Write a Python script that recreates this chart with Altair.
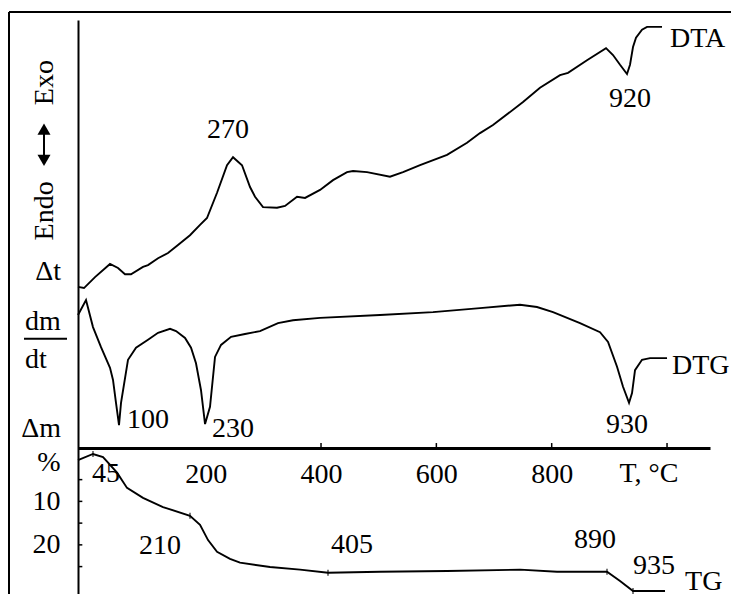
import altair as alt
import pandas as pd

FONT = "Liberation Serif"
FS = 28

# ---------------- data ----------------
# temperature (°C); DTA / DTG in relative signal units (0-100 over the panel); TG mass loss in %
DTA_T = [-21.4, -11.0, 8.1, 34.1, 48.0, 60.1, 70.5, 91.3, 100.0, 117.4, 134.7, 152.0, 172.8, 190.2,
         202.3, 219.7, 237.0, 247.4, 263.0, 276.9, 285.6, 299.4, 323.7, 337.6, 358.4, 372.3, 398.3,
         420.8, 445.1, 455.5, 479.8, 519.6, 542.2, 571.7, 618.5, 653.2, 675.7, 698.2, 750.3, 779.7,
         814.4, 828.3, 861.2, 894.2, 906.3, 918.5, 930.6, 935.8, 941.0, 946.2, 956.6, 965.3, 991.3]
DTA_V = [53.5, 53.3, 55.2, 57.5, 56.8, 55.7, 55.7, 57.0, 57.3, 58.5, 59.4, 60.8, 62.5, 64.3,
         65.5, 69.9, 74.7, 76.1, 74.7, 70.9, 69.2, 67.4, 67.3, 67.6, 69.2, 69.0, 70.4,
         72.1, 73.5, 73.7, 73.5, 72.7, 73.5, 74.7, 76.5, 78.6, 80.3, 81.7, 85.7, 88.2,
         90.4, 90.8, 93.0, 95.1, 93.9, 92.2, 90.6, 92.2, 95.3, 96.9, 98.3, 98.8, 98.8]

DTG_T = [-21.4, -7.5, 4.6, 18.5, 34.1, 39.3, 44.5, 49.7, 53.2, 65.3, 79.2, 100.0, 117.4, 138.2,
         148.6, 164.2, 174.6, 183.2, 191.9, 198.9, 207.5, 216.2, 226.6, 244.0, 268.2, 294.2, 325.4,
         351.4, 398.3, 502.3, 594.2, 675.7, 745.1, 774.5, 802.3, 849.1, 883.8, 897.7, 913.3, 923.7,
         934.1, 939.3, 944.5, 956.6, 970.5, 1000.0]
DTG_V = [48.6, 51.2, 46.5, 43.0, 39.4, 37.3, 33.3, 29.4, 33.3, 40.8, 42.9, 44.3, 45.5, 46.2,
         45.8, 44.6, 42.9, 40.2, 35.5, 29.6, 32.6, 41.3, 43.4, 44.8, 45.3, 45.8, 47.2,
         47.7, 48.1, 48.6, 49.1, 49.8, 50.4, 50.0, 49.1, 47.2, 45.6, 43.9, 39.6, 36.1,
         33.3, 35.0, 39.0, 40.8, 41.1, 41.1]

TG_T = [-21.4, 4.6, 22.0, 46.3, 63.6, 91.3, 126.0, 172.8, 190.2, 204.1, 219.7, 242.2, 259.5,
        311.6, 363.6, 412.1, 502.3, 618.5, 745.1, 809.2, 895.9, 918.5, 941.0, 996.5]
TG_M = [0.5, -0.9, -0.2, 3.4, 6.9, 9.2, 11.3, 13.3, 15.4, 18.9, 21.6, 23.2, 24.1,
        25.1, 25.7, 26.4, 26.2, 26.0, 25.7, 26.2, 26.2, 28.3, 30.6, 30.6]

# axis / tick values
X_LABEL_VALUES = [200, 400, 600, 800]
X_TICKS_UP = [400, 600, 800, 1000]
TG_TICKS = [5, 10, 15, 20, 25]
TG_AXIS_VALUES = [1, 10, 20]

# peak annotations (signal scale)
SIG_LABELS = ["270", "920", "100", "230", "930", "T, °C"]
SIG_LABEL_T = [238.7, 935.8, 100.0, 247.4, 930.6, 968.8]
SIG_LABEL_V = [79.4, 84.8, 28.9, 27.4, 28.1, 19.5]
CURVE_NAMES = ["DTA", "DTG"]
CURVE_NAME_T = [1005.2, 1008.6]
CURVE_NAME_V = [95.3, 38.3]

# TG annotations (% scale)
TG_LABELS = ["45", "210", "405", "890", "935"]
TG_LABEL_T = [27.2, 120.8, 453.8, 875.1, 977.4]
TG_LABEL_M = [5.5, 22.1, 21.8, 20.7, 26.7]
TG_NAME = ["TG"]
TG_NAME_T = [1031.2]
TG_NAME_M = [30.3]
TG_MARK_T = [4.6, 172.8, 412.1, 895.9, 941.0]
TG_MARK_M = [-0.9, 13.3, 26.4, 26.2, 30.6]

# left-side quantity labels (% scale positions)
LEFT_R_LABELS = ["Δt", "Δm"]
LEFT_R_M = [-40.9, -4.8]
LEFT_L_LABELS = ["dm", "dt"]
LEFT_L_M = [-29.3, -20.6]
FRACTION_M = [-27.4]
ROT_LABELS = ["Exo", "Endo"]
ROT_M = [-86.3, -56.8]
ARROW_SHAFT_M = [-75.5, -68.5]
ARROW_HEAD_M = [-75.6, -68.4]
ARROW_HEAD_SHAPES = ["triangle-up", "triangle-down"]

# ---------------- scales / axes ----------------
T_MIN, T_MAX = -21.4, 1074.5
M_TOP, M_BOTTOM = -100.7, 31.3

xs = alt.Scale(domain=[T_MIN, T_MAX], nice=False, zero=False)
ss = alt.Scale(domain=[0, 100], nice=False, zero=False)
ms = alt.Scale(domain=[M_TOP, M_BOTTOM], reverse=True, nice=False, zero=False)

x_axis = alt.Axis(title=None, orient="bottom", offset=-146, values=X_LABEL_VALUES,
                  ticks=False, tickSize=0, domainColor="black", domainWidth=3,
                  labelFont=FONT, labelFontSize=FS, labelColor="black", labelPadding=34,
                  labelBaseline="alphabetic", labelOverlap=False, labelFlush=False, grid=False)

y_axis = alt.Axis(title=None, orient="left", values=TG_AXIS_VALUES,
                  labelExpr="datum.value == 1 ? '%' : datum.label",
                  ticks=False, tickSize=0, domainColor="black", domainWidth=2,
                  labelFont=FONT, labelFontSize=FS, labelColor="black", labelPadding=18,
                  labelOverlap=False, labelFlush=False, labelBound=False, grid=False)


def xenc():
    return alt.X("T:Q", scale=xs, axis=x_axis)


def ys(field="v"):
    return alt.Y(f"{field}:Q", scale=ss, axis=None)


def ym(field="m"):
    return alt.Y(f"{field}:Q", scale=ms, axis=None)


dta = pd.DataFrame({"T": DTA_T, "v": DTA_V})
dtg = pd.DataFrame({"T": DTG_T, "v": DTG_V})
tg = pd.DataFrame({"T": TG_T, "m": TG_M})

one = pd.DataFrame({"a": [0]})

layers = []

# outer frame (left and top lines)
layers.append(alt.Chart(one).mark_rule(color="black", strokeWidth=2).encode(
    x=alt.value(-69), y=alt.value(-8), y2=alt.value(580)))
layers.append(alt.Chart(one).mark_rule(color="black", strokeWidth=2).encode(
    x=alt.value(-69), x2=alt.value(660), y=alt.value(-8)))

# curves
layers.append(alt.Chart(dta).mark_line(color="black", strokeWidth=1.9).encode(x=xenc(), y=ys()))
layers.append(alt.Chart(dtg).mark_line(color="black", strokeWidth=1.9).encode(x=xenc(), y=ys()))
layers.append(alt.Chart(tg).mark_line(color="black", strokeWidth=1.9).encode(
    x=xenc(), y=alt.Y("m:Q", scale=ms, axis=y_axis)))

# inward ticks on temperature axis
xt = pd.DataFrame({"T": X_TICKS_UP, "v": [25.4] * len(X_TICKS_UP), "v2": [26.3] * len(X_TICKS_UP)})
layers.append(alt.Chart(xt).mark_rule(color="black", strokeWidth=1.5).encode(
    x=xenc(), y=ys("v"), y2="v2:Q"))

# inward ticks on TG axis
yt = pd.DataFrame({"T": [T_MIN] * len(TG_TICKS), "T2": [T_MIN + 7.5] * len(TG_TICKS), "m": TG_TICKS})
layers.append(alt.Chart(yt).mark_rule(color="black", strokeWidth=1.5).encode(
    x=xenc(), x2="T2:Q", y=ym()))

# small markers on TG curve
tm = pd.DataFrame({"T": TG_MARK_T, "m": TG_MARK_M})
layers.append(alt.Chart(tm).mark_tick(color="black", orient="vertical", size=6, thickness=1.5).encode(
    x=xenc(), y=ym()))

# annotations on signal scale
sl = pd.DataFrame({"T": SIG_LABEL_T, "v": SIG_LABEL_V, "label": SIG_LABELS})
layers.append(alt.Chart(sl).mark_text(font=FONT, fontSize=FS, color="black", align="center",
                                      baseline="alphabetic").encode(x=xenc(), y=ys(), text="label:N"))
cn = pd.DataFrame({"T": CURVE_NAME_T, "v": CURVE_NAME_V, "label": CURVE_NAMES})
layers.append(alt.Chart(cn).mark_text(font=FONT, fontSize=FS, color="black", align="left",
                                      baseline="alphabetic").encode(x=xenc(), y=ys(), text="label:N"))

# annotations on TG scale
tl = pd.DataFrame({"T": TG_LABEL_T, "m": TG_LABEL_M, "label": TG_LABELS})
layers.append(alt.Chart(tl).mark_text(font=FONT, fontSize=FS, color="black", align="center",
                                      baseline="alphabetic").encode(x=xenc(), y=ym(), text="label:N"))
tn = pd.DataFrame({"T": TG_NAME_T, "m": TG_NAME_M, "label": TG_NAME})
layers.append(alt.Chart(tn).mark_text(font=FONT, fontSize=FS, color="black", align="left",
                                      baseline="alphabetic").encode(x=xenc(), y=ym(), text="label:N"))

# left-side labels
lr = pd.DataFrame({"m": LEFT_R_M, "label": LEFT_R_LABELS})
layers.append(alt.Chart(lr).mark_text(font=FONT, fontSize=FS, color="black", align="right",
                                      baseline="alphabetic").encode(x=alt.value(-17), y=ym(), text="label:N"))
ll = pd.DataFrame({"m": LEFT_L_M, "label": LEFT_L_LABELS})
layers.append(alt.Chart(ll).mark_text(font=FONT, fontSize=FS, color="black", align="left",
                                      baseline="alphabetic").encode(x=alt.value(-53), y=ym(), text="label:N"))
fr = pd.DataFrame({"m": FRACTION_M})
layers.append(alt.Chart(fr).mark_rule(color="black", strokeWidth=2.2).encode(
    x=alt.value(-54), x2=alt.value(-11), y=ym()))

# rotated Endo <-> Exo with a drawn double arrow
rl = pd.DataFrame({"m": ROT_M, "label": ROT_LABELS})
layers.append(alt.Chart(rl).mark_text(font=FONT, fontSize=FS, color="black", align="center",
                                      baseline="alphabetic", angle=270).encode(
    x=alt.value(-25), y=ym(), text="label:N"))
sh = pd.DataFrame({"m": [ARROW_SHAFT_M[0]], "m2": [ARROW_SHAFT_M[1]]})
layers.append(alt.Chart(sh).mark_rule(color="black", strokeWidth=2).encode(
    x=alt.value(-34), y=ym(), y2="m2:Q"))
hd = pd.DataFrame({"m": ARROW_HEAD_M, "shape": ARROW_HEAD_SHAPES})
layers.append(alt.Chart(hd).mark_point(filled=True, color="black", opacity=1, size=170).encode(
    x=alt.value(-34), y=ym(),
    shape=alt.Shape("shape:N", scale=alt.Scale(domain=ARROW_HEAD_SHAPES, range=ARROW_HEAD_SHAPES),
                    legend=None)))

chart = alt.layer(*layers).resolve_scale(y="independent").properties(
    width=632, height=574,
    autosize=alt.AutoSizeParams(type="none"),
    padding={"left": 78, "top": 20, "right": 21, "bottom": 0},
    background="white",
).configure_view(stroke=None)

chart.save("out.html", embed_options={"renderer": "svg", "actions": False})
